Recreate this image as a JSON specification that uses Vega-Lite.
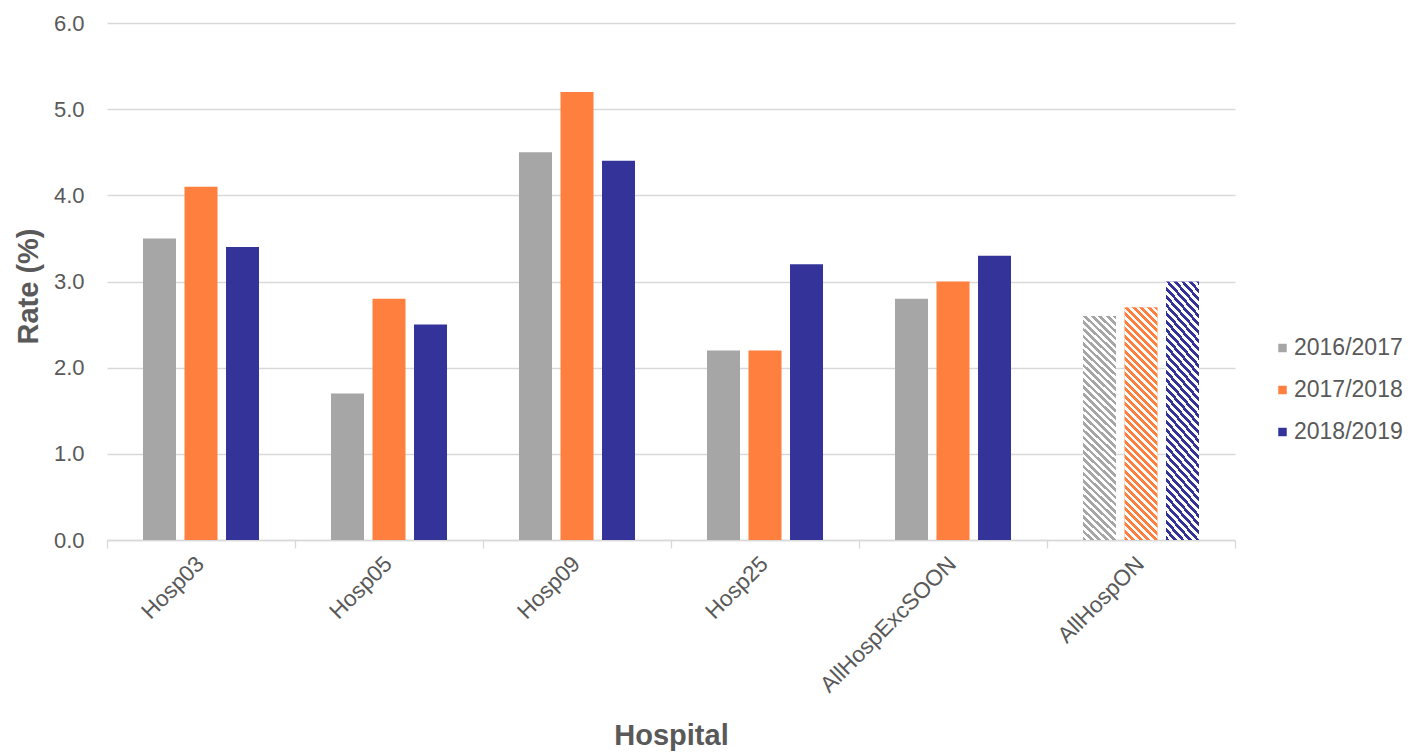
{
  "$schema": "https://vega.github.io/schema/vega-lite/v6.json",
  "width": 1128,
  "height": 517,
  "autosize": {"type": "none"},
  "padding": {"left": 107, "top": 23, "right": 177, "bottom": 212},
  "background": "white",
  "config": {
    "font": "Liberation Sans",
    "view": {"stroke": null},
    "axis": {"labelColor": "#595959", "titleColor": "#595959"}
  },
  "data": {
    "values": [
      {"Hospital": "Hosp03", "Year": "2016/2017", "Rate": 3.5},
      {"Hospital": "Hosp03", "Year": "2017/2018", "Rate": 4.1},
      {"Hospital": "Hosp03", "Year": "2018/2019", "Rate": 3.4},
      {"Hospital": "Hosp05", "Year": "2016/2017", "Rate": 1.7},
      {"Hospital": "Hosp05", "Year": "2017/2018", "Rate": 2.8},
      {"Hospital": "Hosp05", "Year": "2018/2019", "Rate": 2.5},
      {"Hospital": "Hosp09", "Year": "2016/2017", "Rate": 4.5},
      {"Hospital": "Hosp09", "Year": "2017/2018", "Rate": 5.2},
      {"Hospital": "Hosp09", "Year": "2018/2019", "Rate": 4.4},
      {"Hospital": "Hosp25", "Year": "2016/2017", "Rate": 2.2},
      {"Hospital": "Hosp25", "Year": "2017/2018", "Rate": 2.2},
      {"Hospital": "Hosp25", "Year": "2018/2019", "Rate": 3.2},
      {"Hospital": "AllHospExcSOON", "Year": "2016/2017", "Rate": 2.8},
      {"Hospital": "AllHospExcSOON", "Year": "2017/2018", "Rate": 3.0},
      {"Hospital": "AllHospExcSOON", "Year": "2018/2019", "Rate": 3.3},
      {"Hospital": "AllHospON", "Year": "2016/2017", "Rate": 2.6},
      {"Hospital": "AllHospON", "Year": "2017/2018", "Rate": 2.7},
      {"Hospital": "AllHospON", "Year": "2018/2019", "Rate": 3.0}
    ]
  },
  "encoding": {
    "x": {
      "field": "Hospital",
      "type": "nominal",
      "sort": ["Hosp03", "Hosp05", "Hosp09", "Hosp25", "AllHospExcSOON", "AllHospON"],
      "scale": {"paddingInner": 0, "paddingOuter": 0},
      "axis": {
        "title": "Hospital",
        "labelAngle": -45,
        "labelAlign": "right",
        "labelBaseline": "middle",
        "labelFontSize": 22.5,
        "labelPadding": 12,
        "labelOffset": -1,
        "labelLimit": 0,
        "tickBand": "extent",
        "tickSize": 8,
        "tickColor": "#D9D9D9",
        "tickWidth": 1.3,
        "domainColor": "#D9D9D9",
        "domainWidth": 1.3,
        "grid": false,
        "titleFontSize": 29,
        "titleFontWeight": "bold",
        "titleY": 195,
        "titleBaseline": "middle"
      }
    },
    "xOffset": {
      "field": "Year",
      "type": "nominal",
      "scale": {"paddingInner": 0.205, "paddingOuter": 0.867}
    },
    "y": {
      "field": "Rate",
      "type": "quantitative",
      "scale": {"domain": [0, 6]},
      "axis": {
        "title": "Rate (%)",
        "values": [0, 1, 2, 3, 4, 5, 6],
        "format": ".1f",
        "domain": false,
        "ticks": false,
        "grid": true,
        "gridColor": "#D9D9D9",
        "gridWidth": 1.3,
        "labelFontSize": 22,
        "labelPadding": 23,
        "titleFontSize": 29,
        "titleFontWeight": "bold",
        "titleX": -79,
        "titleY": 263,
        "titleBaseline": "middle"
      }
    }
  },
  "layer": [
    {
      "mark": {"type": "bar"},
      "encoding": {
        "color": {
          "field": "Year",
          "type": "nominal",
          "scale": {
            "domain": ["2016/2017", "2017/2018", "2018/2019"],
            "range": ["#A6A6A6", "#FF7F3F", "#333399"]
          },
          "legend": {
            "title": null,
            "orient": "none",
            "legendX": 1164,
            "legendY": 313.5,
            "symbolType": "square",
            "symbolSize": 72,
            "symbolStrokeWidth": 0,
            "labelFontSize": 23,
            "labelColor": "#595959",
            "labelOffset": 0,
            "rowPadding": 18,
            "padding": 0
          }
        }
      }
    },
    {
      "transform": [{"filter": "datum.Hospital === 'AllHospON'"}],
      "mark": {
        "type": "bar",
        "fill": {
          "gradient": "linear",
          "x1": 0, "y1": 1, "x2": 0.1792, "y2": -0.2634,
          "stops": [
            {"offset": 0, "color": "#fff0"}, {"offset": 0.0125, "color": "#fff0"}, {"offset": 0.0125, "color": "#fff"}, {"offset": 0.025, "color": "#fff"},
            {"offset": 0.025, "color": "#fff0"}, {"offset": 0.0375, "color": "#fff0"}, {"offset": 0.0375, "color": "#fff"}, {"offset": 0.05, "color": "#fff"},
            {"offset": 0.05, "color": "#fff0"}, {"offset": 0.0625, "color": "#fff0"}, {"offset": 0.0625, "color": "#fff"}, {"offset": 0.075, "color": "#fff"},
            {"offset": 0.075, "color": "#fff0"}, {"offset": 0.0875, "color": "#fff0"}, {"offset": 0.0875, "color": "#fff"}, {"offset": 0.1, "color": "#fff"},
            {"offset": 0.1, "color": "#fff0"}, {"offset": 0.1125, "color": "#fff0"}, {"offset": 0.1125, "color": "#fff"}, {"offset": 0.125, "color": "#fff"},
            {"offset": 0.125, "color": "#fff0"}, {"offset": 0.1375, "color": "#fff0"}, {"offset": 0.1375, "color": "#fff"}, {"offset": 0.15, "color": "#fff"},
            {"offset": 0.15, "color": "#fff0"}, {"offset": 0.1625, "color": "#fff0"}, {"offset": 0.1625, "color": "#fff"}, {"offset": 0.175, "color": "#fff"},
            {"offset": 0.175, "color": "#fff0"}, {"offset": 0.1875, "color": "#fff0"}, {"offset": 0.1875, "color": "#fff"}, {"offset": 0.2, "color": "#fff"},
            {"offset": 0.2, "color": "#fff0"}, {"offset": 0.2125, "color": "#fff0"}, {"offset": 0.2125, "color": "#fff"}, {"offset": 0.225, "color": "#fff"},
            {"offset": 0.225, "color": "#fff0"}, {"offset": 0.2375, "color": "#fff0"}, {"offset": 0.2375, "color": "#fff"}, {"offset": 0.25, "color": "#fff"},
            {"offset": 0.25, "color": "#fff0"}, {"offset": 0.2625, "color": "#fff0"}, {"offset": 0.2625, "color": "#fff"}, {"offset": 0.275, "color": "#fff"},
            {"offset": 0.275, "color": "#fff0"}, {"offset": 0.2875, "color": "#fff0"}, {"offset": 0.2875, "color": "#fff"}, {"offset": 0.3, "color": "#fff"},
            {"offset": 0.3, "color": "#fff0"}, {"offset": 0.3125, "color": "#fff0"}, {"offset": 0.3125, "color": "#fff"}, {"offset": 0.325, "color": "#fff"},
            {"offset": 0.325, "color": "#fff0"}, {"offset": 0.3375, "color": "#fff0"}, {"offset": 0.3375, "color": "#fff"}, {"offset": 0.35, "color": "#fff"},
            {"offset": 0.35, "color": "#fff0"}, {"offset": 0.3625, "color": "#fff0"}, {"offset": 0.3625, "color": "#fff"}, {"offset": 0.375, "color": "#fff"},
            {"offset": 0.375, "color": "#fff0"}, {"offset": 0.3875, "color": "#fff0"}, {"offset": 0.3875, "color": "#fff"}, {"offset": 0.4, "color": "#fff"},
            {"offset": 0.4, "color": "#fff0"}, {"offset": 0.4125, "color": "#fff0"}, {"offset": 0.4125, "color": "#fff"}, {"offset": 0.425, "color": "#fff"},
            {"offset": 0.425, "color": "#fff0"}, {"offset": 0.4375, "color": "#fff0"}, {"offset": 0.4375, "color": "#fff"}, {"offset": 0.45, "color": "#fff"},
            {"offset": 0.45, "color": "#fff0"}, {"offset": 0.4625, "color": "#fff0"}, {"offset": 0.4625, "color": "#fff"}, {"offset": 0.475, "color": "#fff"},
            {"offset": 0.475, "color": "#fff0"}, {"offset": 0.4875, "color": "#fff0"}, {"offset": 0.4875, "color": "#fff"}, {"offset": 0.5, "color": "#fff"},
            {"offset": 0.5, "color": "#fff0"}, {"offset": 0.5125, "color": "#fff0"}, {"offset": 0.5125, "color": "#fff"}, {"offset": 0.525, "color": "#fff"},
            {"offset": 0.525, "color": "#fff0"}, {"offset": 0.5375, "color": "#fff0"}, {"offset": 0.5375, "color": "#fff"}, {"offset": 0.55, "color": "#fff"},
            {"offset": 0.55, "color": "#fff0"}, {"offset": 0.5625, "color": "#fff0"}, {"offset": 0.5625, "color": "#fff"}, {"offset": 0.575, "color": "#fff"},
            {"offset": 0.575, "color": "#fff0"}, {"offset": 0.5875, "color": "#fff0"}, {"offset": 0.5875, "color": "#fff"}, {"offset": 0.6, "color": "#fff"},
            {"offset": 0.6, "color": "#fff0"}, {"offset": 0.6125, "color": "#fff0"}, {"offset": 0.6125, "color": "#fff"}, {"offset": 0.625, "color": "#fff"},
            {"offset": 0.625, "color": "#fff0"}, {"offset": 0.6375, "color": "#fff0"}, {"offset": 0.6375, "color": "#fff"}, {"offset": 0.65, "color": "#fff"},
            {"offset": 0.65, "color": "#fff0"}, {"offset": 0.6625, "color": "#fff0"}, {"offset": 0.6625, "color": "#fff"}, {"offset": 0.675, "color": "#fff"},
            {"offset": 0.675, "color": "#fff0"}, {"offset": 0.6875, "color": "#fff0"}, {"offset": 0.6875, "color": "#fff"}, {"offset": 0.7, "color": "#fff"},
            {"offset": 0.7, "color": "#fff0"}, {"offset": 0.7125, "color": "#fff0"}, {"offset": 0.7125, "color": "#fff"}, {"offset": 0.725, "color": "#fff"},
            {"offset": 0.725, "color": "#fff0"}, {"offset": 0.7375, "color": "#fff0"}, {"offset": 0.7375, "color": "#fff"}, {"offset": 0.75, "color": "#fff"},
            {"offset": 0.75, "color": "#fff0"}, {"offset": 0.7625, "color": "#fff0"}, {"offset": 0.7625, "color": "#fff"}, {"offset": 0.775, "color": "#fff"},
            {"offset": 0.775, "color": "#fff0"}, {"offset": 0.7875, "color": "#fff0"}, {"offset": 0.7875, "color": "#fff"}, {"offset": 0.8, "color": "#fff"},
            {"offset": 0.8, "color": "#fff0"}, {"offset": 0.8125, "color": "#fff0"}, {"offset": 0.8125, "color": "#fff"}, {"offset": 0.825, "color": "#fff"},
            {"offset": 0.825, "color": "#fff0"}, {"offset": 0.8375, "color": "#fff0"}, {"offset": 0.8375, "color": "#fff"}, {"offset": 0.85, "color": "#fff"},
            {"offset": 0.85, "color": "#fff0"}, {"offset": 0.8625, "color": "#fff0"}, {"offset": 0.8625, "color": "#fff"}, {"offset": 0.875, "color": "#fff"},
            {"offset": 0.875, "color": "#fff0"}, {"offset": 0.8875, "color": "#fff0"}, {"offset": 0.8875, "color": "#fff"}, {"offset": 0.9, "color": "#fff"},
            {"offset": 0.9, "color": "#fff0"}, {"offset": 0.9125, "color": "#fff0"}, {"offset": 0.9125, "color": "#fff"}, {"offset": 0.925, "color": "#fff"},
            {"offset": 0.925, "color": "#fff0"}, {"offset": 0.9375, "color": "#fff0"}, {"offset": 0.9375, "color": "#fff"}, {"offset": 0.95, "color": "#fff"},
            {"offset": 0.95, "color": "#fff0"}, {"offset": 0.9625, "color": "#fff0"}, {"offset": 0.9625, "color": "#fff"}, {"offset": 0.975, "color": "#fff"},
            {"offset": 0.975, "color": "#fff0"}, {"offset": 0.9875, "color": "#fff0"}, {"offset": 0.9875, "color": "#fff"}, {"offset": 1, "color": "#fff"}
          ]
        }
      }
    }
  ]
}
